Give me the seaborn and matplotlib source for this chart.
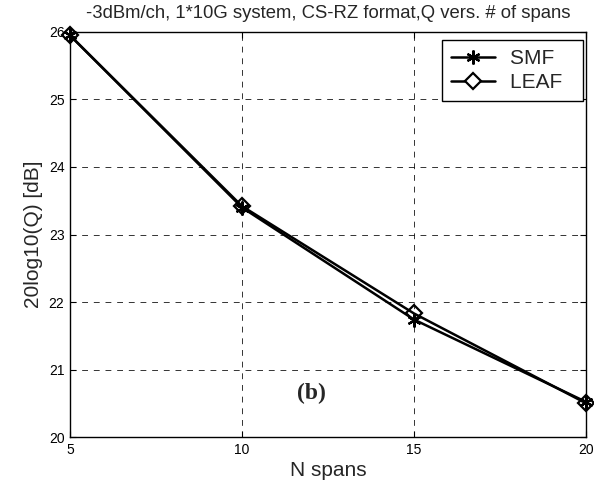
import matplotlib
matplotlib.use("Agg")
import matplotlib.pyplot as plt
import seaborn as sns
import pandas as pd
from matplotlib.lines import Line2D

spans = [5, 10, 15, 20]
smf_q = [25.95, 23.40, 21.74, 20.52]
leaf_q = [25.95, 23.42, 21.83, 20.50]
x_ticks = [5, 10, 15, 20]
y_ticks = [20, 21, 22, 23, 24, 25, 26]
series_names = ["SMF", "LEAF"]

df_smf = pd.DataFrame({"N": spans, "Q": smf_q})
df_leaf = pd.DataFrame({"N": spans, "Q": leaf_q})

sns.set_theme(style="white")
plt.rcParams["font.family"] = ["Liberation Sans", "DejaVu Sans"]

fig = plt.figure(figsize=(5.94, 4.86), dpi=100)
ax = fig.add_axes([70 / 594, 49 / 486, 516 / 594, 405 / 486])

sns.lineplot(data=df_smf, x="N", y="Q", color="black", marker=(6, 2, 0),
             markersize=10, linewidth=1.8, ax=ax, markeredgecolor="black",
             markeredgewidth=1.6, clip_on=False)
sns.lineplot(data=df_leaf, x="N", y="Q", color="black", marker="D",
             markersize=8, linewidth=1.8, ax=ax, markeredgecolor="black",
             markerfacecolor="none", markeredgewidth=1.6, clip_on=False)

ax.set_xlim(5, 20)
ax.set_ylim(20, 26)
ax.set_xticks(x_ticks)
ax.set_yticks(y_ticks)
ax.set_xticklabels([str(t) for t in x_ticks], fontsize=10)
ax.set_yticklabels([str(t) for t in y_ticks], fontsize=10)
ax.tick_params(direction="in", length=4, width=0.8, colors="black", pad=4,
               bottom=True, left=True, top=True, right=True,
               labeltop=False, labelright=False)
ax.grid(True, color="black", linestyle=(0, (6, 6)), linewidth=0.7, alpha=0.8)
for s in ax.spines.values():
    s.set_color("black")
    s.set_linewidth(1.0)

ax.set_xlabel("N spans", fontsize=15, labelpad=3)
ax.set_ylabel("20log10(Q) [dB]", fontsize=15, labelpad=4)
ax.set_title("-3dBm/ch, 1*10G system, CS-RZ format,Q vers. # of spans",
             fontsize=13.3, pad=10)

ax.text(12.03, 20.65, "(b)", fontsize=17, fontweight="bold",
        family=["Liberation Serif", "DejaVu Serif"], ha="center", va="center")

handles = [
    Line2D([], [], color="black", linewidth=1.8, marker=(6, 2, 0),
           markersize=10, markeredgewidth=1.6),
    Line2D([], [], color="black", linewidth=1.8, marker="D",
           markersize=8, markerfacecolor="white", markeredgewidth=1.6),
]
leg = ax.legend(handles, [n + "  " for n in series_names], loc="upper right",
                fontsize=15, frameon=True, fancybox=False, edgecolor="black",
                borderpad=0.45, handlelength=2.1, handletextpad=0.7,
                labelspacing=0.22, borderaxespad=0,
                bbox_to_anchor=(0.994, 0.98))
leg.get_frame().set_linewidth(1.0)
leg.get_frame().set_alpha(1)

fig.savefig("out.png", dpi=100)
